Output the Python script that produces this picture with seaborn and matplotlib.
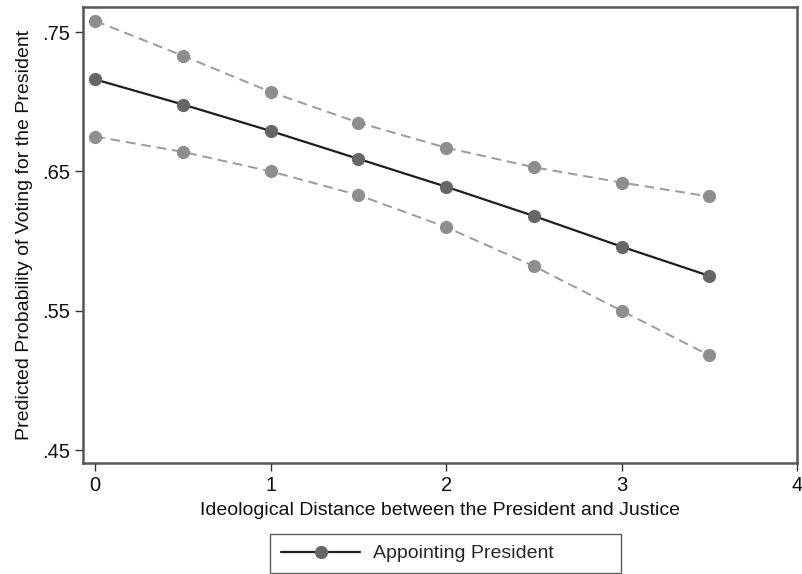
import matplotlib
matplotlib.use("Agg")
import matplotlib.pyplot as plt
import pandas as pd
import seaborn as sns

# Values
distance = [0, 0.5, 1, 1.5, 2, 2.5, 3, 3.5]
estimate = [0.716, 0.698, 0.679, 0.659, 0.639, 0.618, 0.596, 0.575]
upper = [0.758, 0.733, 0.707, 0.685, 0.667, 0.653, 0.642, 0.632]
lower = [0.675, 0.664, 0.650, 0.633, 0.610, 0.582, 0.550, 0.518]

x_ticks = [0, 1, 2, 3, 4]
y_ticks = [0.45, 0.55, 0.65, 0.75]
y_tick_labels = ['.45', '.55', '.65', '.75']

df = pd.DataFrame({'distance': distance, 'estimate': estimate,
                   'upper': upper, 'lower': lower})

sns.set_style('white')
plt.rcParams['font.family'] = ['Liberation Sans', 'DejaVu Sans']

fig = plt.figure(figsize=(8.02, 5.74), dpi=100)
ax = fig.add_axes([83 / 802, 1 - 463 / 574, 714 / 802, 456 / 574])

# Confidence bounds (dashed, light gray)
for col in ['upper', 'lower']:
    sns.lineplot(data=df, x='distance', y=col, ax=ax, color='#9a9a9a',
                 linestyle=(0, (5, 3)), linewidth=1.4, marker='o',
                 markersize=9.5, markeredgewidth=0, markerfacecolor='#8e8e8e')

# Point estimate
sns.lineplot(data=df, x='distance', y='estimate', ax=ax, color='#1e1e1e',
             linewidth=1.6, marker='o', markersize=9.5, markeredgewidth=0,
             markerfacecolor='#404040', label='Appointing President')

ax.set_xlim(-0.07, 4.0)
ax.set_ylim(0.4407, 0.768)
ax.set_xticks(x_ticks)
ax.set_xticklabels([str(t) for t in x_ticks])
ax.set_yticks(y_ticks)
ax.set_yticklabels(y_tick_labels)
ax.tick_params(axis='both', direction='out', length=6, width=1,
               color='#333333', labelsize=14.5, labelcolor='#111111',
               bottom=True, left=True)

for side in ax.spines.values():
    side.set_color('#555555')
    side.set_linewidth(1.8)

ax.set_xlabel('Ideological Distance between the President and Justice',
              fontsize=14, color='#111111', labelpad=5)
ax.set_ylabel('Predicted Probability of Voting for the President',
              fontsize=14, color='#111111', labelpad=6)

# Legend below the plot, Stata style
handles, labels = ax.get_legend_handles_labels()
ax.get_legend().remove()
handles[0].set_markerfacecolor('#666666')
leg = fig.legend(handles, labels, loc='lower left', mode='expand',
                 bbox_to_anchor=(270 / 802, 1 / 574, 351 / 802, 41 / 574),
                 fontsize=14, frameon=True, fancybox=False,
                 handlelength=4.1, handletextpad=0.65, borderpad=0.55,
                 borderaxespad=0)
leg.get_frame().set_edgecolor('#333333')
leg.get_frame().set_linewidth(1.0)

fig.savefig('out.png', dpi=100)
